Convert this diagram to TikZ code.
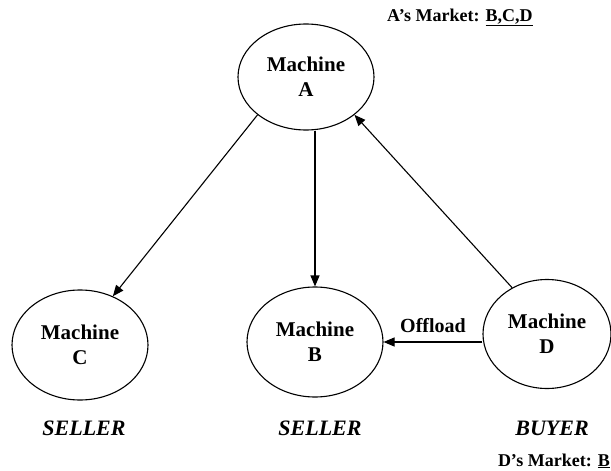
\documentclass[tikz,border=0pt]{standalone}
\usepackage{fontspec}
\setmainfont{Liberation Serif}
\usetikzlibrary{shapes.geometric,arrows.meta}
\begin{document}
\begin{tikzpicture}[x=1pt,y=-1pt,
  machine/.style={draw, ellipse, line width=1.1pt, inner sep=0pt, align=center,
    font=\fontsize{21}{25}\selectfont\bfseries},
  conn/.style={line width=1.1pt, -{Triangle[length=11pt,width=9pt]}},
  role/.style={font=\fontsize{22}{24}\selectfont\bfseries\itshape},
  market/.style={font=\fontsize{18}{20}\selectfont\bfseries, inner sep=0pt},
  lbl/.style={font=\fontsize{20}{22}\selectfont\bfseries}]
\useasboundingbox (0,0) rectangle (611,471);
\node[machine, minimum width=136pt, minimum height=106pt] (A) at (306,77) {Machine\\A};
\node[machine, minimum width=136pt, minimum height=110pt] (C) at (80,345) {Machine\\C};
\node[machine, minimum width=136pt, minimum height=110pt] (B) at (315,342) {Machine\\B};
\node[machine, minimum width=128pt, minimum height=109pt] (D) at (547,334) {Machine\\D};
\draw[conn] (A.218) -- (C.56);
\draw[conn] (B.north |- A.south) -- (B.north);
\draw[conn] (D.127) -- (A.322);
\draw[conn] (D.west |- B.east) -- node[lbl, above=5pt] (off) {Offload} (B.east);
\node[role] (sc) at (84,428) {SELLER};
\node[role] (sb) at (320,428) {SELLER};
\node[role] (bd) at (552,428) {BUYER};
\node[market, anchor=base west] (am) at (387,21) {A's Market: \underline{B,C,D}};
\node[market, anchor=base east] (dm) at (610,466) {D's Market: \underline{B}};
\end{tikzpicture}
\end{document}
